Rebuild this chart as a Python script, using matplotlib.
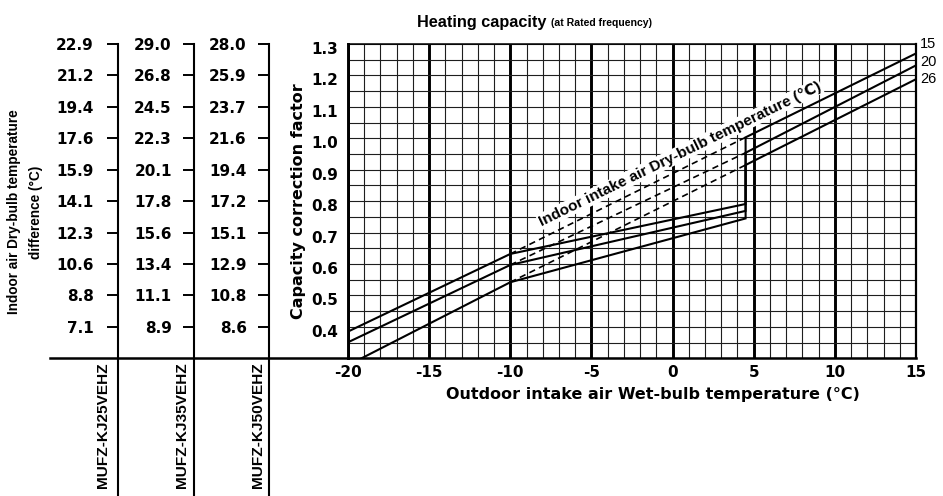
import numpy as np
import matplotlib
matplotlib.use("Agg")
import matplotlib.pyplot as plt
from matplotlib import font_manager
from matplotlib.lines import Line2D
import matplotlib.transforms as mtransforms

# ---------------- data ----------------
outdoor_wb = [-20, -10, 4.5, 4.5, 15]
cap_db15 = [0.385, 0.632, 0.791, 1.003, 1.270]
cap_db20 = [0.351, 0.597, 0.769, 0.954, 1.232]
cap_db26 = [0.278, 0.542, 0.745, 0.915, 1.188]
indoor_db_labels = ["15", "20", "26"]

cap_ticks = [1.3, 1.2, 1.1, 1.0, 0.9, 0.8, 0.7, 0.6, 0.5, 0.4]
cap_tick_labels = ["1.3", "1.2", "1.1", "1.0", "0.9", "0.8", "0.7", "0.6", "0.5", "0.4"]
x_ticks = [-20, -15, -10, -5, 0, 5, 10, 15]
x_tick_labels = ["-20", "-15", "-10", "-5", "0", "5", "10", "15"]

models = ["MUFZ-KJ25VEHZ", "MUFZ-KJ35VEHZ", "MUFZ-KJ50VEHZ"]
dt_kj25 = ["22.9", "21.2", "19.4", "17.6", "15.9", "14.1", "12.3", "10.6", "8.8", "7.1"]
dt_kj35 = ["29.0", "26.8", "24.5", "22.3", "20.1", "17.8", "15.6", "13.4", "11.1", "8.9"]
dt_kj50 = ["28.0", "25.9", "23.7", "21.6", "19.4", "17.2", "15.1", "12.9", "10.8", "8.6"]

# ---------------- fonts ----------------
avail = {f.name for f in font_manager.fontManager.ttflist}
def pick(*names):
    for n in names:
        if n in avail:
            return n
    return "DejaVu Sans"

arial = pick("Liberation Sans", "Arimo", "DejaVu Sans")
has_narrow = "Liberation Sans Narrow" in avail
narrow = "Liberation Sans Narrow" if has_narrow else arial
if has_narrow:
    sz_title, sz_sub, sz_model, sz_curve = 13.5, 9.5, 13.0, 12.0
else:
    sz_title, sz_sub, sz_model, sz_curve = 11.7, 7.6, 11.1, 10.5

plt.rcParams["font.family"] = ["DejaVu Sans"]
plt.rcParams["font.weight"] = "bold"
plt.rcParams["axes.unicode_minus"] = False

W, H = 943, 496
fig = plt.figure(figsize=(W / 100, H / 100), dpi=100)
fig.patch.set_facecolor("white")

# main axes geometry (pixels)
L, R, T, B = 348, 916, 44, 358.3
ax = fig.add_axes([L / W, 1 - B / H, (R - L) / W, (B - T) / H])
ax.set_xlim(-20, 15)
ax.set_ylim(0.3, 1.3)

ax.set_xticks(x_ticks, x_tick_labels)
ax.set_xticks(np.arange(-20, 16, 1), minor=True)
ax.set_yticks(cap_ticks, cap_tick_labels)
ax.set_yticks(np.arange(0.3, 1.3001, 0.05), minor=True)
ax.tick_params(which="both", length=0)
ax.tick_params(axis="x", pad=5, labelsize=11)
ax.tick_params(axis="y", pad=7, labelsize=11)

ax.set_axisbelow(True)
ax.grid(True, which="major", axis="x", color="black", lw=2.1)
ax.grid(True, which="minor", axis="x", color="#1e1e1e", lw=0.8)
ax.grid(True, which="both", axis="y", color="#1e1e1e", lw=0.8)

ax.spines["left"].set_linewidth(2.1)
ax.spines["bottom"].set_linewidth(1.8)
ax.spines["right"].set_linewidth(1.6)
ax.spines["top"].set_linewidth(1.1)

offset = mtransforms.ScaledTranslation(0, -4 / 100, fig.dpi_scale_trans)
for lbl in ax.get_yticklabels():
    lbl.set_transform(lbl.get_transform() + offset)

# curves
label_offsets = [7, 2.5, 0]
for vals, lab, off in zip([cap_db15, cap_db20, cap_db26], indoor_db_labels, label_offsets):
    ax.plot(outdoor_wb, vals, color="black", lw=1.5, zorder=4, solid_joinstyle="miter")
    ax.plot([outdoor_wb[1], outdoor_wb[3]], [vals[1], vals[3]], color="black",
            lw=1.2, dashes=(3.8, 2.6), zorder=4)
    ax.annotate(lab, xy=(outdoor_wb[-1], vals[-1]), xytext=(3, off),
                textcoords="offset points", ha="left", va="center",
                fontsize=sz_curve, fontweight="normal", family=[narrow, "DejaVu Sans"],
                annotation_clip=False)

ax.text(0.45, 0.95, "Indoor intake air Dry-bulb temperature (\u2103)", rotation=26,
        rotation_mode="anchor", ha="center", va="center", fontsize=11,
        family=[arial, "DejaVu Sans"], fontweight="bold",
        bbox=dict(fc="white", ec="none", pad=0.8), zorder=3)

ax.set_xlabel("Outdoor intake air Wet-bulb temperature (°C)", fontsize=11.5, fontweight="bold")
ax.xaxis.set_label_coords(0.537, -0.091)
ax.set_ylabel("Capacity correction factor", fontsize=11.5, fontweight="bold", va="center")
ax.yaxis.set_label_coords(-0.088, 0.5)

# title
t1 = fig.text(417 / W, 1 - 29.5 / H, "Heating capacity", family=[narrow, "DejaVu Sans"],
              fontsize=sz_title, fontweight="bold", ha="left", va="bottom")
ax.annotate("(at Rated frequency)", xy=(1, 0), xycoords=t1, xytext=(3, 0.8),
            textcoords="offset points", ha="left", va="bottom",
            fontsize=sz_sub, family=[narrow, "DejaVu Sans"], fontweight="bold",
            annotation_clip=False)

# left rotated label
fig.text(25 / W, 1 - 212 / H, "Indoor air Dry-bulb temperature\ndifference (°C)",
         rotation=90, ha="center", va="center", multialignment="center",
         fontsize=9.8, family=[arial, "DejaVu Sans"], fontweight="bold", linespacing=1.7)

# left scale columns
col_x = [118.3, 194.0, 269.3]
model_x = [103.3, 181.7, 257.8]
pads = [9.5, 8.0, 8.3]
bottom_val = 1.3 - (H - T) / (B - T) * (1.3 - 0.3)
for cx, mx, vals, pad, model in zip(col_x, model_x, [dt_kj25, dt_kj35, dt_kj50], pads, models):
    cax = fig.add_axes([cx / W, 0, 0.0005, (H - T) / H])
    cax.set_ylim(bottom_val, 1.3)
    cax.set_xlim(0, 1)
    for s in ["top", "right", "bottom"]:
        cax.spines[s].set_visible(False)
    cax.spines["left"].set_linewidth(1.5)
    cax.patch.set_visible(False)
    cax.set_xticks([])
    cax.set_yticks(cap_ticks, vals)
    cax.tick_params(axis="y", direction="out", length=8, width=1.4, pad=pad, labelsize=11)
    fig.text(mx / W, 1 - 362 / H, model, rotation=90, ha="center", va="top",
             family=[narrow, "DejaVu Sans"], fontsize=sz_model, fontweight="bold")

fig.add_artist(Line2D([50 / W, L / W], [1 - B / H, 1 - B / H], transform=fig.transFigure,
                      color="black", lw=1.8))

fig.savefig("out.png", dpi=100)
